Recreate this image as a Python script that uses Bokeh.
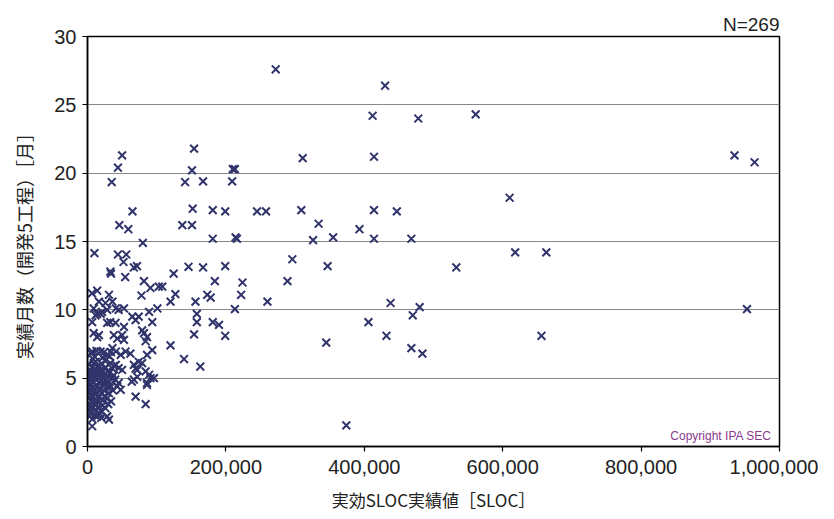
from bokeh.plotting import figure
from bokeh.models import Range1d, FixedTicker, NumeralTickFormatter, Label
from bokeh.embed import file_html
from bokeh.resources import INLINE

# SLOC in thousands, months
sloc_k = [
    272, 430, 412, 478, 561, 414, 610, 414, 447, 393, 414, 468, 618, 663, 533, 438, 480, 470, 406, 432,
    656, 468, 484, 935, 964, 953, 374,
    154, 311, 151, 210, 213, 167, 209, 152, 181, 199, 245, 258, 309, 334, 151, 181, 214, 216, 326, 355,
    296, 146, 167, 199, 347, 184, 224, 289, 222, 173, 178, 156, 260, 213, 158, 158, 181, 190, 154, 199,
    345, 163,
    50, 44, 35, 141, 65, 46, 59, 137, 80, 10, 44, 56, 52, 67, 71.5, 33, 34, 54.5, 124.5, 81.6,
    14, 91, 103, 108, 6.5, 31, 78, 120, 127, 16.5, 26, 36, 9, 14, 21, 28.5, 41, 45, 52.7, 11.6,
    19, 64.7, 69.5, 74, 89, 101, 93.6, 6.8, 28.5, 33, 40.5, 52.7, 79, 9, 14, 16.5, 38, 43, 50, 52.7,
    81.6, 86, 84, 120, 139.5, 93.6, 86, 74, 79, 67, 69.5, 72, 84, 89, 91, 96, 86, 67, 55, 62,
    41, 45, 50, 43, 48, 45, 69.5, 84, 6.8, 0.5, 28.5, 31, 14, 6.8, 19, 28.5, 36, 41, 64, 72, 86,
    6, 10, 13, 22, 24, 32, 34, 48, 25, 12,
    2, 4, 7, 9, 15, 18, 21, 26, 29, 33, 36, 38, 3, 11,
    1, 2.5, 3.5, 5, 6, 8, 10, 12, 13, 16, 17, 19, 20, 23, 25, 27, 30, 32, 35, 38, 40, 1.5, 4, 22, 15,
    1, 3, 5, 7, 9, 11, 14, 16, 18, 21, 24, 26, 29, 31, 34, 37, 2,
    1.5, 3, 5, 7, 9, 12, 14, 17, 20, 22, 25, 28, 31, 34, 10,
    1, 2.5, 4, 6, 8, 11, 13, 16, 19, 22, 26, 30, 18,
    3, 7, 10, 20, 8,
]
months = [
    27.6, 26.4, 24.2, 24.0, 24.3, 21.2, 18.2, 17.3, 17.2, 15.9, 15.2, 15.2, 14.2, 14.2, 13.1, 10.5, 10.2, 9.6, 9.1, 8.1,
    8.1, 7.2, 6.8, 21.3, 20.8, 10.05, 1.55,
    21.8, 21.1, 20.2, 20.3, 20.3, 19.4, 19.4, 17.4, 17.3, 17.2, 17.2, 17.2, 17.3, 16.3, 16.2, 15.2, 15.3, 15.2, 15.1, 15.3,
    13.7, 13.15, 13.1, 13.2, 13.2, 12.1, 12.0, 12.1, 11.1, 11.1, 10.9, 10.6, 10.6, 10.05, 9.7, 9.1, 9.1, 8.9, 8.2, 8.1,
    7.6, 5.85,
    21.3, 20.4, 19.35, 19.35, 17.2, 16.2, 15.9, 16.2, 14.9, 14.15, 14.05, 14.05, 13.5, 13.1, 13.2, 12.8, 12.65, 12.4, 12.65, 12.1,
    11.4, 11.6, 11.7, 11.7, 11.2, 11.1, 11.05, 10.6, 11.15, 10.6, 10.5, 10.6, 10.1, 9.7, 9.85, 10.0, 10.1, 10.0, 10.1, 9.6,
    9.7, 9.5, 9.25, 9.5, 9.85, 10.1, 9.1, 9.1, 9.05, 9.1, 9.05, 8.75, 8.5, 8.3, 8.0, 8.15, 8.15, 7.9, 8.15, 7.8,
    8.3, 8.0, 7.7, 7.4, 6.4, 7.05, 6.7, 6.2, 6.1, 5.97, 5.7, 5.6, 5.5, 5.25, 5.0, 5.0, 4.65, 4.9, 6.95, 6.8,
    5.97, 5.73, 5.6, 4.4, 4.15, 4.65, 3.65, 3.1, 1.48, 2.33, 2.2, 1.97, 2.2, 6.95, 6.95, 6.7, 7.2, 6.95, 4.75, 5.1, 4.5,
    6.8, 6.6, 7.0, 6.5, 6.9, 6.6, 6.9, 6.7, 6.3, 6.2,
    6.0, 5.6, 5.8, 6.1, 5.9, 5.6, 6.0, 5.8, 5.5, 6.1, 5.7, 5.9, 5.4, 5.5,
    5.2, 4.9, 5.0, 5.3, 4.8, 5.1, 5.4, 4.9, 5.2, 5.0, 5.4, 4.8, 5.2, 5.0, 5.3, 4.9, 5.1, 5.4, 5.0, 5.2, 4.9, 4.8, 5.5, 5.5, 5.5,
    4.5, 4.2, 4.6, 4.3, 4.7, 4.1, 4.4, 4.7, 4.2, 4.5, 4.1, 4.6, 4.3, 4.7, 4.4, 4.1, 4.0,
    3.6, 3.9, 3.3, 3.7, 3.4, 3.8, 3.3, 3.6, 3.9, 3.4, 3.7, 3.5, 3.9, 3.3, 3.1,
    3.0, 2.7, 2.5, 3.0, 2.8, 2.6, 3.1, 2.9, 2.6, 3.0, 2.8, 3.1, 2.4,
    2.2, 2.0, 2.3, 2.1, 6.4,
]
sloc = [v * 1000 for v in sloc_k]

x_ticks = [0, 200000, 400000, 600000, 800000, 1000000]
y_ticks = [0, 5, 10, 15, 20, 25, 30]

p = figure(width=818, height=514, output_backend="svg", toolbar_location=None,
           x_range=Range1d(0, 1000000), y_range=Range1d(0, 30),
           title="N=269", title_location="above",
           min_border_left=87, min_border_right=39, min_border_top=36, min_border_bottom=65)

p.title.align = "right"
p.title.text_font = "Liberation Sans"
p.title.text_font_size = "19px"
p.title.text_font_style = "normal"
p.title.text_color = "#222222"
p.title.standoff = 4
p.title.offset = 0

p.x(sloc, months, size=11, line_width=2.0, line_color="#30346b")

font = "Liberation Sans"
for ax in (p.xaxis[0], p.yaxis[0]):
    ax.major_label_text_font = font
    ax.major_label_text_font_size = "20px"
    ax.major_label_text_color = "#222222"
    ax.axis_line_color = "black"
    ax.axis_line_width = 1.5
    ax.major_tick_line_color = "black"
    ax.major_tick_line_width = 1.2
    ax.major_tick_out = 5
    ax.major_tick_in = 0
    ax.minor_tick_line_color = None
    ax.axis_label_text_font = "Noto Sans CJK JP"
    ax.axis_label_text_font_style = "normal"
    ax.axis_label_text_color = "#222222"

p.xaxis.axis_label_text_font_size = "17px"
p.yaxis.axis_label_text_font_size = "18px"
p.xaxis.ticker = FixedTicker(ticks=x_ticks)
p.yaxis.ticker = FixedTicker(ticks=y_ticks)
p.xaxis.formatter = NumeralTickFormatter(format="0,0")
p.xaxis.axis_label = "実効SLOC実績値［SLOC］"
p.yaxis.axis_label = "実績月数（開発5工程）［月］"
p.xaxis.major_label_standoff = 8
p.yaxis.major_label_standoff = 6
p.xaxis.axis_label_standoff = 10
p.yaxis.axis_label_standoff = 14

p.xgrid.grid_line_color = None
p.ygrid.grid_line_color = "#888888"
p.ygrid.grid_line_width = 1.2
p.ygrid.ticker = FixedTicker(ticks=[5, 10, 15, 20, 25])

p.outline_line_color = "black"
p.outline_line_width = 1.5
p.background_fill_color = "white"
p.border_fill_color = "white"

p.add_layout(Label(x=1000000, y=0, x_offset=-8, y_offset=4, text="Copyright IPA SEC",
                   text_align="right", text_baseline="bottom", text_font=font,
                   text_font_size="12px", text_color="#8a3a8e"))

open("out.html", "w").write(file_html(p, INLINE))
